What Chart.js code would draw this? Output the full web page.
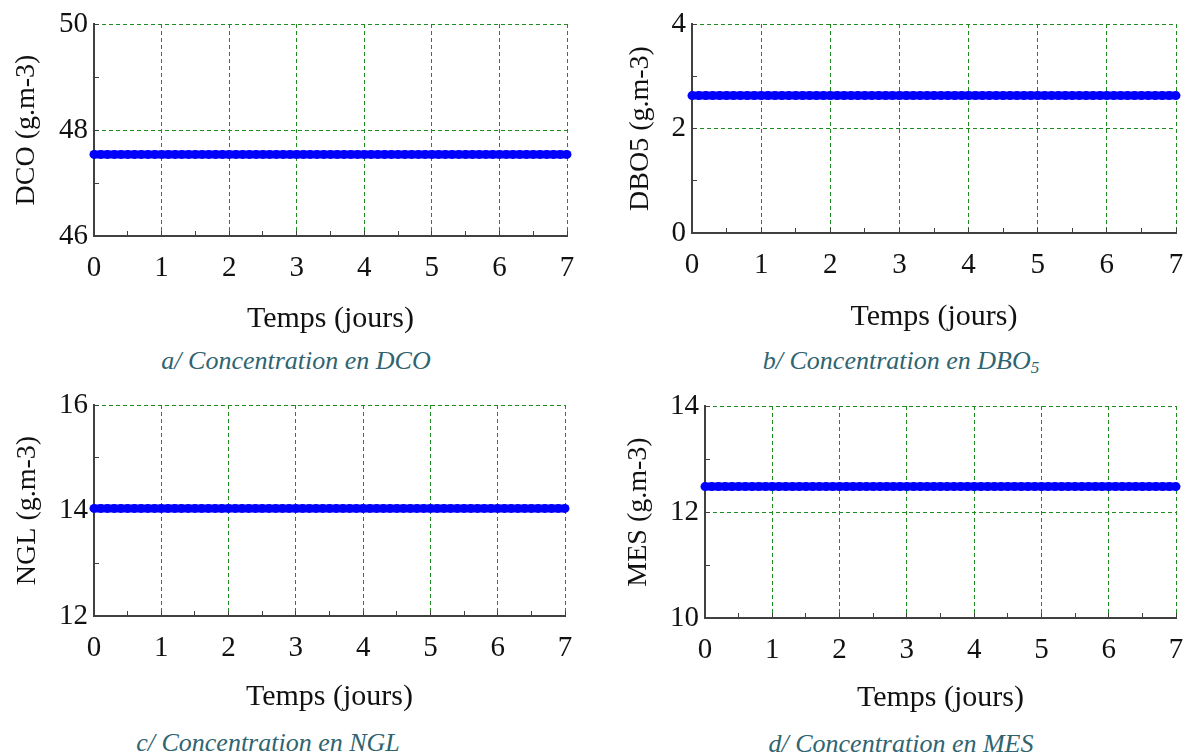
<!DOCTYPE html>
<html>
<head>
<meta charset="utf-8">
<script src="https://cdn.jsdelivr.net/npm/chart.js@4.4.1/dist/chart.umd.min.js"></script>
<style>
  body { margin:0; width:1186px; height:754px; position:relative; background:#fff; overflow:hidden; }
  .panel { position:absolute; }
  .legende { position:absolute; width:400px; text-align:center; font-family:'Liberation Serif','Times New Roman',serif;
             font-style:italic; font-size:26px; line-height:30px; color:#2f6470; white-space:nowrap; }
  .legende sub { font-size:17px; vertical-align:-4px; line-height:0; }
</style>
</head>
<body>
<div class="panel" style="left:0;top:0;width:600px;height:340px"><canvas id="chartDCO"></canvas></div>
<div class="panel" style="left:600px;top:0;width:586px;height:340px"><canvas id="chartDBO"></canvas></div>
<div class="panel" style="left:0;top:380px;width:600px;height:340px"><canvas id="chartNGL"></canvas></div>
<div class="panel" style="left:600px;top:380px;width:586px;height:340px"><canvas id="chartMES"></canvas></div>

<div class="legende" style="left:96px;top:346px">a/ Concentration en DCO</div>
<div class="legende" style="left:701px;top:346px">b/ Concentration en DBO<sub>5</sub></div>
<div class="legende" style="left:68px;top:728px">c/ Concentration en NGL</div>
<div class="legende" style="left:701px;top:729px">d/ Concentration en MES</div>

<script>
// temps (jours), pas de 0.1
const jours = [0,0.1,0.2,0.3,0.4,0.5,0.6,0.7,0.8,0.9,
  1,1.1,1.2,1.3,1.4,1.5,1.6,1.7,1.8,1.9,
  2,2.1,2.2,2.3,2.4,2.5,2.6,2.7,2.8,2.9,
  3,3.1,3.2,3.3,3.4,3.5,3.6,3.7,3.8,3.9,
  4,4.1,4.2,4.3,4.4,4.5,4.6,4.7,4.8,4.9,
  5,5.1,5.2,5.3,5.4,5.5,5.6,5.7,5.8,5.9,
  6,6.1,6.2,6.3,6.4,6.5,6.6,6.7,6.8,6.9,
  7];

const dco = [47.54,47.54,47.54,47.54,47.54,47.54,47.54,47.54,47.54,47.54,
  47.54,47.54,47.54,47.54,47.54,47.54,47.54,47.54,47.54,47.54,
  47.54,47.54,47.54,47.54,47.54,47.54,47.54,47.54,47.54,47.54,
  47.54,47.54,47.54,47.54,47.54,47.54,47.54,47.54,47.54,47.54,
  47.54,47.54,47.54,47.54,47.54,47.54,47.54,47.54,47.54,47.54,
  47.54,47.54,47.54,47.54,47.54,47.54,47.54,47.54,47.54,47.54,
  47.54,47.54,47.54,47.54,47.54,47.54,47.54,47.54,47.54,47.54,
  47.54];

const dbo5 = [2.63,2.63,2.63,2.63,2.63,2.63,2.63,2.63,2.63,2.63,
  2.63,2.63,2.63,2.63,2.63,2.63,2.63,2.63,2.63,2.63,
  2.63,2.63,2.63,2.63,2.63,2.63,2.63,2.63,2.63,2.63,
  2.63,2.63,2.63,2.63,2.63,2.63,2.63,2.63,2.63,2.63,
  2.63,2.63,2.63,2.63,2.63,2.63,2.63,2.63,2.63,2.63,
  2.63,2.63,2.63,2.63,2.63,2.63,2.63,2.63,2.63,2.63,
  2.63,2.63,2.63,2.63,2.63,2.63,2.63,2.63,2.63,2.63,
  2.63];

const ngl = [14.04,14.04,14.04,14.04,14.04,14.04,14.04,14.04,14.04,14.04,
  14.04,14.04,14.04,14.04,14.04,14.04,14.04,14.04,14.04,14.04,
  14.04,14.04,14.04,14.04,14.04,14.04,14.04,14.04,14.04,14.04,
  14.04,14.04,14.04,14.04,14.04,14.04,14.04,14.04,14.04,14.04,
  14.04,14.04,14.04,14.04,14.04,14.04,14.04,14.04,14.04,14.04,
  14.04,14.04,14.04,14.04,14.04,14.04,14.04,14.04,14.04,14.04,
  14.04,14.04,14.04,14.04,14.04,14.04,14.04,14.04,14.04,14.04,
  14.04];

const mes = [12.48,12.48,12.48,12.48,12.48,12.48,12.48,12.48,12.48,12.48,
  12.48,12.48,12.48,12.48,12.48,12.48,12.48,12.48,12.48,12.48,
  12.48,12.48,12.48,12.48,12.48,12.48,12.48,12.48,12.48,12.48,
  12.48,12.48,12.48,12.48,12.48,12.48,12.48,12.48,12.48,12.48,
  12.48,12.48,12.48,12.48,12.48,12.48,12.48,12.48,12.48,12.48,
  12.48,12.48,12.48,12.48,12.48,12.48,12.48,12.48,12.48,12.48,
  12.48,12.48,12.48,12.48,12.48,12.48,12.48,12.48,12.48,12.48,
  12.48];

// etiquettes des axes
const joursTicks = [0,1,2,3,4,5,6,7];
const dcoTicks = [46,48,50];
const dbo5Ticks = [0,2,4];
const nglTicks = [12,14,16];
const mesTicks = [10,12,14];

const serif = "'Liberation Serif','Times New Roman',serif";
const vert = 'rgb(30,140,30)';
const axe = '#404040';
const bleu = '#0000ff';

function sansMarge(s) {
  s.paddingTop = 0; s.paddingBottom = 0; s.paddingLeft = 0; s.paddingRight = 0;
}

function panel(id, valeurs, yTicks, yTitre, g) {
  const points = jours.map((j, i) => ({x: j, y: valeurs[i]}));
  return new Chart(document.getElementById(id), {
    type: 'line',
    data: {
      datasets: [{
        data: points,
        borderColor: bleu,
        backgroundColor: bleu,
        borderWidth: 8,
        pointRadius: 4.5,
        pointBorderWidth: 0,
        pointBackgroundColor: bleu,
        tension: 0,
        clip: false
      }]
    },
    options: {
      responsive: true,
      maintainAspectRatio: false,
      animation: false,
      layout: { padding: { left: 0, top: g.top, right: g.right, bottom: 0 } },
      plugins: { legend: { display: false }, tooltip: { enabled: false } },
      scales: {
        x: {
          type: 'linear', min: 0, max: 7,
          ticks: {
            stepSize: 0.5, autoSkip: false, maxRotation: 0, padding: 20, color: '#111',
            font: { family: serif, size: 29 },
            callback: v => joursTicks.includes(v) ? v : ''
          },
          grid: {
            color: c => (c.tick && joursTicks.includes(c.tick.value)) ? vert : 'rgba(0,0,0,0)',
            tickColor: axe, tickLength: -5, lineWidth: 1
          },
          border: { color: axe, width: 2, dash: [4, 3] },
          title: { display: true, text: 'Temps (jours)', color: '#111',
                   font: { family: serif, size: 30 }, padding: { top: 0, bottom: g.xPad } },
          afterFit: s => { s.height = g.xH; sansMarge(s); }
        },
        y: {
          type: 'linear', min: yTicks[0], max: yTicks[yTicks.length - 1],
          ticks: {
            stepSize: 1, autoSkip: false, padding: 11, color: '#111',
            font: { family: serif, size: 29 },
            callback: v => yTicks.includes(v) ? v : ''
          },
          grid: {
            color: c => (c.tick && yTicks.includes(c.tick.value)) ? vert : 'rgba(0,0,0,0)',
            tickColor: axe, tickLength: -5, lineWidth: 1
          },
          border: { color: axe, width: 2, dash: [4, 3] },
          title: { display: true, text: yTitre, color: '#111',
                   font: { family: serif, size: 28 }, padding: { top: g.yPad, bottom: 0 } },
          afterFit: s => { s.width = g.yW; sansMarge(s); }
        }
      }
    }
  });
}

panel('chartDCO', dco, dcoTicks, 'DCO (g.m-3)', { top: 24, right: 33, xH: 104, xPad: 3, yW: 94, yPad: 10 });
panel('chartDBO', dbo5, dbo5Ticks, 'DBO5 (g.m-3)', { top: 24, right: 10, xH: 107, xPad: 5, yW: 92, yPad: 24 });
panel('chartNGL', ngl, nglTicks, 'NGL (g.m-3)', { top: 25, right: 35, xH: 104, xPad: 5, yW: 94, yPad: 11 });
panel('chartMES', mes, mesTicks, 'MES (g.m-3)', { top: 26, right: 10, xH: 102, xPad: 4, yW: 105, yPad: 22 });
</script>
</body>
</html>
